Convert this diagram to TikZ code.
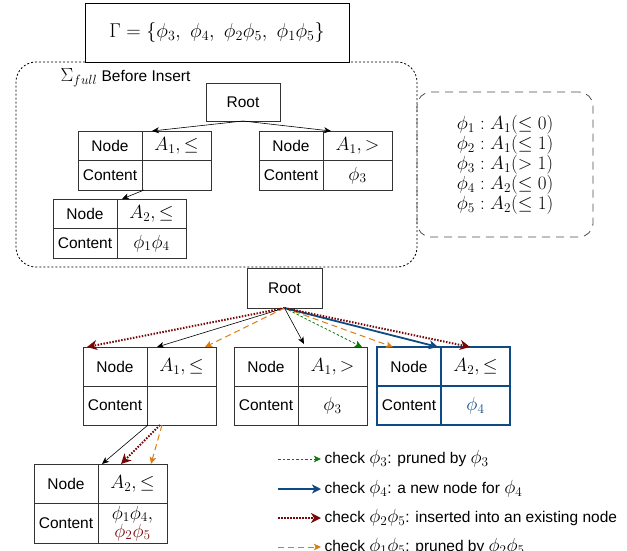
\RequirePackage{fix-cm}
\documentclass[tikz,border=0pt]{standalone}
\usepackage{fontspec}
\setsansfont{Liberation Sans}
\usetikzlibrary{positioning, arrows.meta}

\definecolor{insertred}{HTML}{760808}
\definecolor{newblue}{HTML}{0E4B84}
\definecolor{prunegreen}{HTML}{0B7A0B}
\definecolor{pruneorange}{HTML}{DA7E12}

\tikzset{
  treecell/.style={draw=black!80, line width=0.8pt, inner sep=0pt, outer sep=0pt},
  keycell/.style={treecell, minimum width=64pt},
  opcell/.style={treecell, minimum width=69pt, align=center, font=\fontsize{19}{18}\selectfont},
  treeedge/.style={-{Stealth[length=7pt, width=6pt, inset=2pt]}, line width=0.6pt},
  check3/.style={prunegreen, line width=0.8pt, dash pattern=on 2.5pt off 2pt,
    -{Stealth[length=7pt, width=6.5pt, inset=1.5pt]}},
  check4/.style={newblue, line width=1.8pt, -{Stealth[length=9pt, width=9pt, inset=2.5pt]}},
  check25/.style={insertred, line width=2pt, dash pattern=on 1.5pt off 1.5pt,
    -{Stealth[length=10pt, width=10pt, inset=3pt]}},
  check15/.style={pruneorange, line width=1pt, dash pattern=on 6pt off 4pt,
    -{Stealth[length=7pt, width=6.5pt, inset=1.5pt]}},
}

% one tree node drawn as a 2x2 table
\newcommand{\nodetable}[6]{%
  \node[keycell, minimum height=#3, anchor=north west, #6] (#1-key) at #2 {Node};
  \node[opcell, minimum height=#3, right=0pt of #1-key, #6] (#1-op) {#4};
  \node[keycell, minimum height=#3, below=0pt of #1-key, #6] (#1-ck) {Content};
  \node[opcell, minimum height=#3, right=0pt of #1-ck, #6] (#1-cv) {#5};
}
% math set a little larger than the sans text
\newcommand{\largemath}[1]{{\fontsize{19}{18}\selectfont$#1$}}

\begin{document}
\begin{tikzpicture}[x=1pt, y=-1pt,
  every node/.style={font=\fontsize{15.5}{18}\selectfont\sffamily}]
\useasboundingbox (0,0) rectangle (627,550);

% tree before insert
\node[draw, line width=0.8pt, dash pattern=on 2pt off 2pt, rounded corners=20pt,
  minimum width=401pt, minimum height=205pt] (fulltree) at (216.5,164.5) {};
\node[draw, fill=white, line width=0.8pt, minimum width=264pt, minimum height=59pt,
  font=\fontsize{20}{20}\selectfont] (gamma) at (217,32.5)
  {$\Gamma=\{\phi_3,\ \phi_4,\ \phi_2\phi_5,\ \phi_1\phi_5\}$};
\node[anchor=west] (fulllabel) at (57,78) {\largemath{\Sigma_{full}} Before Insert};
\node[draw=black!70, line width=0.8pt, dash pattern=on 8pt off 6pt, rounded corners=14pt,
  minimum width=176pt, minimum height=145pt, align=center,
  font=\fontsize{19}{17.7}\selectfont] (atoms) at (505,164.5)
  {$\phi_1 : A_1(\leq 0)$\\ $\phi_2 : A_1(\leq 1)$\\ $\phi_3 : A_1(> 1)$\\
   $\phi_4 : A_2(\leq 0)$\\ $\phi_5 : A_2(\leq 1)$};

\node[treecell, minimum width=74pt, minimum height=38pt] (top-root) at (243,102) {Root};
\nodetable{tl}{(78,131)}{29.5pt}{$A_1,\leq$}{}{}
\nodetable{tr}{(259,131)}{29.5pt}{$A_1,>$}{$\phi_3$}{}
\nodetable{tll}{(53,199)}{29.5pt}{$A_2,\leq$}{$\phi_1\phi_4$}{}

\draw[treeedge] (top-root.south) -- ([xshift=10pt]tl-op.north west);
\draw[treeedge] (top-root.south) -- ([xshift=8pt]tr-op.north west);
\draw[treeedge] ([xshift=2pt]tl-cv.south west) -- ([xshift=5pt]tll-op.north west);

% tree after insert
\node[treecell, minimum width=75pt, minimum height=40pt] (root) at (284.5,288) {Root};
\nodetable{bl}{(83,347)}{39pt}{$A_1,\leq$}{}{}
\nodetable{bm}{(234,347)}{39pt}{$A_1,>$}{$\phi_3$}{}
\nodetable{br}{(377,347)}{39pt}{$A_2,\leq$}{\color{newblue}$\phi_4$}{draw=newblue, line width=1.6pt}
\nodetable{bll}{(34,464)}{39.5pt}{$A_2,\leq$}
  {$\phi_1\phi_4,$\\ \color{insertred}$\phi_2\phi_5$}{}

\draw[check25] (root.south) -- ([xshift=4pt]bl-key.north west);
\draw[treeedge] (root.south) -- ([xshift=10pt]bl-op.north west);
\draw[check15] (root.south) -- ([xshift=-11pt]bl-op.north east);
\draw[treeedge] (root.south) -- ([xshift=6pt, yshift=3pt]bm-op.north west);
\draw[check3] (root.south) -- ([xshift=-5pt]bm-op.north east);
\draw[check15] (root.south) -- ([xshift=16pt]br-key.north west);
\draw[check4] (root.south) -- ([xshift=-3pt]br-op.north west);
\draw[check25] (root.south) -- ([xshift=29pt]br-op.north west);

\draw[treeedge] ([xshift=1pt]bl-cv.south west) -- ([xshift=4pt]bll-op.north west);
\draw[check25] ([xshift=13pt]bl-cv.south west) -- ([xshift=23pt]bll-op.north west);
\draw[check15] ([xshift=15pt]bl-cv.south west) -- ([xshift=53pt]bll-op.north west);

% legend
\coordinate (leg3-start) at (278,459);
\coordinate (leg4-start) at (278,489);
\coordinate (leg25-start) at (278,518);
\coordinate (leg15-start) at (278,547);
\node[anchor=west] (leg3) at (321,459) {check \largemath{\phi_3}: pruned by \largemath{\phi_3}};
\node[anchor=west] (leg4) at (321,489) {check \largemath{\phi_4}: a new node for \largemath{\phi_4}};
\node[anchor=west] (leg25) at (321,518) {check \largemath{\phi_2\phi_5}: inserted into an existing node};
\node[anchor=west] (leg15) at (321,547) {check \largemath{\phi_1\phi_5}: pruned by \largemath{\phi_2\phi_5}};
\draw[check3] (leg3-start) -- (leg3.west);
\draw[check4] (leg4-start) -- (leg4.west);
\draw[check25] (leg25-start) -- (leg25.west);
\draw[check15] (leg15-start) -- (leg15.west);
\end{tikzpicture}
\end{document}
